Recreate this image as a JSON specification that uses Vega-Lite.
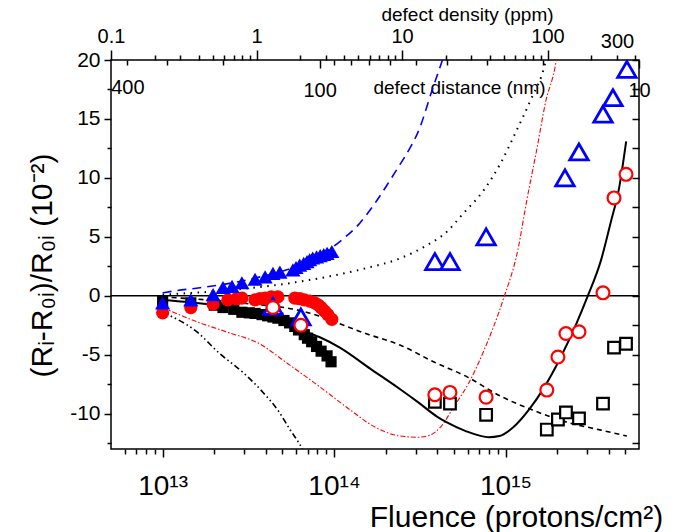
{
  "$schema": "https://vega.github.io/schema/vega-lite/v6.json",
  "width": 528,
  "height": 389,
  "autosize": {"type": "none"},
  "padding": {"left": 111, "top": 60, "right": 57, "bottom": 83},
  "config": {
    "view": {"stroke": "#000", "strokeWidth": 1.5},
    "font": "Liberation Sans",
    "axis": {"grid": false, "domain": false, "tickColor": "#000", "tickWidth": 1.5, "labelColor": "#000", "titleColor": "#000", "labelFont": "Liberation Sans", "titleFont": "Liberation Sans", "labelFlush": false, "labelOverlap": false, "titleFontWeight": "normal"}
  },
  "datasets": {
    "zero": [{"F": 5e12, "y": 0}, {"F": 6e15, "y": 0}],
    "filledSq": [
      {"F": 1e13, "y": -0.5}, {"F": 1.46e13, "y": -0.6}, {"F": 2.0e13, "y": -0.8}, {"F": 2.25e13, "y": -1.0},
      {"F": 2.6e13, "y": -1.15}, {"F": 2.9e13, "y": -1.4}, {"F": 3.2e13, "y": -1.45}, {"F": 3.46e13, "y": -1.5},
      {"F": 3.8e13, "y": -1.6}, {"F": 4.1e13, "y": -1.7}, {"F": 4.4e13, "y": -1.8}, {"F": 4.7e13, "y": -1.9},
      {"F": 5.1e13, "y": -2.1}, {"F": 5.5e13, "y": -2.3}, {"F": 5.9e13, "y": -2.6}, {"F": 6.2e13, "y": -2.9},
      {"F": 6.7e13, "y": -3.3}, {"F": 7.0e13, "y": -3.6}, {"F": 7.4e13, "y": -3.9}, {"F": 7.9e13, "y": -4.3},
      {"F": 8.4e13, "y": -4.7}, {"F": 9.1e13, "y": -5.1}, {"F": 9.6e13, "y": -5.6}
    ],
    "filledCi": [
      {"F": 1e13, "y": -1.45}, {"F": 1.46e13, "y": -1.0}, {"F": 1.97e13, "y": -0.7}, {"F": 2.4e13, "y": -0.35},
      {"F": 2.7e13, "y": -0.25}, {"F": 2.9e13, "y": -0.2}, {"F": 3.46e13, "y": -0.35}, {"F": 3.7e13, "y": -0.25},
      {"F": 3.96e13, "y": -0.2}, {"F": 4.3e13, "y": -0.1}, {"F": 4.7e13, "y": -0.1}, {"F": 5.9e13, "y": -0.2},
      {"F": 6.3e13, "y": -0.25}, {"F": 6.7e13, "y": -0.35}, {"F": 7.2e13, "y": -0.45}, {"F": 7.7e13, "y": -0.6},
      {"F": 8.1e13, "y": -0.8}, {"F": 8.4e13, "y": -1.0}, {"F": 8.8e13, "y": -1.3}, {"F": 9.2e13, "y": -1.6},
      {"F": 9.7e13, "y": -2.0}
    ],
    "filledTri": [
      {"F": 1e13, "y": -0.6}, {"F": 1.46e13, "y": -0.35}, {"F": 1.97e13, "y": 0.1}, {"F": 2.25e13, "y": 0.7},
      {"F": 2.54e13, "y": 0.8}, {"F": 2.9e13, "y": 1.1}, {"F": 3.46e13, "y": 1.4}, {"F": 3.96e13, "y": 1.6},
      {"F": 4.4e13, "y": 1.9}, {"F": 4.83e13, "y": 2.0}, {"F": 5.75e13, "y": 2.2}, {"F": 6.0e13, "y": 2.4},
      {"F": 6.3e13, "y": 2.6}, {"F": 6.65e13, "y": 2.75}, {"F": 6.95e13, "y": 2.9}, {"F": 7.2e13, "y": 3.05},
      {"F": 7.5e13, "y": 3.2}, {"F": 7.9e13, "y": 3.3}, {"F": 8.3e13, "y": 3.4}, {"F": 8.7e13, "y": 3.5},
      {"F": 9.1e13, "y": 3.6}, {"F": 9.7e13, "y": 3.75}
    ],
    "openSq": [
      {"F": 3.87e14, "y": -9.0}, {"F": 4.74e14, "y": -9.15}, {"F": 7.7e14, "y": -10.1}, {"F": 1.74e15, "y": -11.35},
      {"F": 2.02e15, "y": -10.5}, {"F": 2.25e15, "y": -9.9}, {"F": 2.68e15, "y": -10.4}, {"F": 3.7e15, "y": -9.15},
      {"F": 4.29e15, "y": -4.4}, {"F": 5.04e15, "y": -4.07}
    ],
    "openTri": [
      {"F": 4.4e13, "y": -0.9}, {"F": 6.4e13, "y": -1.8}, {"F": 3.87e14, "y": 2.9}, {"F": 4.74e14, "y": 2.9},
      {"F": 7.7e14, "y": 5.0}, {"F": 2.22e15, "y": 10.0}, {"F": 2.68e15, "y": 12.2}, {"F": 3.7e15, "y": 15.4},
      {"F": 4.23e15, "y": 16.8}, {"F": 5.1e15, "y": 19.2}
    ],
    "openCi": [
      {"F": 4.4e13, "y": -1.0}, {"F": 6.4e13, "y": -2.5}, {"F": 3.87e14, "y": -8.4}, {"F": 4.74e14, "y": -8.2},
      {"F": 7.7e14, "y": -8.6}, {"F": 1.74e15, "y": -8.0}, {"F": 2.02e15, "y": -5.2}, {"F": 2.25e15, "y": -3.2},
      {"F": 2.68e15, "y": -3.05}, {"F": 3.7e15, "y": 0.25}, {"F": 4.29e15, "y": 8.3}, {"F": 5.04e15, "y": 10.3}
    ],
    "lBlueDash": [
      {"F": 1e13, "y": 0.25}, {"F": 1.18e13, "y": 0.42}, {"F": 1.65e13, "y": 0.68}, {"F": 2.57e13, "y": 1.1},
      {"F": 3.7e13, "y": 1.6}, {"F": 5.3e13, "y": 2.2}, {"F": 7.5e13, "y": 3.05}, {"F": 1.08e14, "y": 4.6},
      {"F": 1.42e14, "y": 6.2}, {"F": 1.78e14, "y": 8.1}, {"F": 2.12e14, "y": 9.8}, {"F": 2.39e14, "y": 11.0},
      {"F": 2.59e14, "y": 11.8}, {"F": 3.17e14, "y": 14.3}, {"F": 3.72e14, "y": 17.4}, {"F": 4.26e14, "y": 19.9},
      {"F": 4.5e14, "y": 21}
    ],
    "lDotted": [
      {"F": 1e13, "y": 0.1}, {"F": 2.57e13, "y": 0.5}, {"F": 6.3e13, "y": 1.2}, {"F": 1.5e14, "y": 2.3},
      {"F": 2.4e14, "y": 3.15}, {"F": 3.4e14, "y": 4.2}, {"F": 4.6e14, "y": 5.5}, {"F": 5.6e14, "y": 6.9},
      {"F": 7.5e14, "y": 9.0}, {"F": 9.4e14, "y": 11.3}, {"F": 1.14e15, "y": 13.8}, {"F": 1.4e15, "y": 16.6},
      {"F": 1.7e15, "y": 19.7}, {"F": 1.75e15, "y": 20.5}
    ],
    "lRedDD": [
      {"F": 1e13, "y": -1.0}, {"F": 1.65e13, "y": -2.3}, {"F": 2.4e13, "y": -3.1}, {"F": 3.7e13, "y": -4.1},
      {"F": 5.3e13, "y": -5.7}, {"F": 8.2e13, "y": -7.7}, {"F": 1.3e14, "y": -9.9}, {"F": 1.58e14, "y": -10.8},
      {"F": 2.44e14, "y": -11.9}, {"F": 3.07e14, "y": -12.0}, {"F": 3.5e14, "y": -11.9}, {"F": 4.2e14, "y": -11.1},
      {"F": 5.0e14, "y": -9.4}, {"F": 6.1e14, "y": -7.4}, {"F": 7.5e14, "y": -4.6}, {"F": 9.7e14, "y": -0.3},
      {"F": 1.18e15, "y": 3.9}, {"F": 1.33e15, "y": 8.1}, {"F": 1.52e15, "y": 12.4}, {"F": 1.71e15, "y": 16.4},
      {"F": 1.96e15, "y": 19.7}, {"F": 2.0e15, "y": 20.5}
    ],
    "lSolid": [
      {"F": 1e13, "y": -0.35}, {"F": 1.9e13, "y": -0.75}, {"F": 3.7e13, "y": -1.6}, {"F": 6.3e13, "y": -2.9},
      {"F": 8.2e13, "y": -3.5}, {"F": 1.08e14, "y": -4.4}, {"F": 1.63e14, "y": -6.2}, {"F": 2.44e14, "y": -7.95},
      {"F": 3.07e14, "y": -9.0}, {"F": 3.98e14, "y": -10.25}, {"F": 4.55e14, "y": -10.75}, {"F": 5.9e14, "y": -11.5},
      {"F": 8.0e14, "y": -12.0}, {"F": 9.2e14, "y": -11.9}, {"F": 1.1e15, "y": -11.2}, {"F": 1.38e15, "y": -9.6},
      {"F": 1.66e15, "y": -7.9}, {"F": 2.1e15, "y": -5.2}, {"F": 2.6e15, "y": -2.3}, {"F": 3.0e15, "y": -0.1},
      {"F": 3.6e15, "y": 3.0}, {"F": 4.1e15, "y": 6.2}, {"F": 4.6e15, "y": 9.2}, {"F": 5.05e15, "y": 13.1}
    ],
    "lShortDash": [
      {"F": 1e13, "y": -0.1}, {"F": 2.8e13, "y": -0.6}, {"F": 6.3e13, "y": -1.25}, {"F": 1.6e14, "y": -3.3},
      {"F": 2.44e14, "y": -4.2}, {"F": 3.8e14, "y": -5.6}, {"F": 6.0e14, "y": -6.9}, {"F": 9.3e14, "y": -8.5},
      {"F": 1.44e15, "y": -9.7}, {"F": 2.25e15, "y": -10.7}, {"F": 3.6e15, "y": -11.4}, {"F": 5.1e15, "y": -11.9}
    ],
    "lDDD": [
      {"F": 1e13, "y": -1.4}, {"F": 1.58e13, "y": -3.05}, {"F": 2.15e13, "y": -4.9}, {"F": 2.94e13, "y": -6.5},
      {"F": 3.85e13, "y": -8.2}, {"F": 4.8e13, "y": -9.9}, {"F": 5.5e13, "y": -11.3}, {"F": 6.3e13, "y": -12.6},
      {"F": 6.8e13, "y": -13.5}
    ]
  },
  "layer": [
    {
      "encoding": {
        "x": {
          "field": "F", "type": "quantitative",
          "scale": {"type": "log", "domain": [5e12, 6e15], "nice": false},
          "axis": {
            "orient": "bottom",
            "values": [6e12, 7e12, 8e12, 9e12, 1e13, 2e13, 3e13, 4e13, 5e13, 6e13, 7e13, 8e13, 9e13, 1e14, 2e14, 3e14, 4e14, 5e14, 6e14, 7e14, 8e14, 9e14, 1e15, 2e15, 3e15, 4e15, 5e15],
            "tickSize": {"condition": {"test": "abs(log(datum.value)/LN10 - round(log(datum.value)/LN10)) < 0.001", "value": 8}, "value": 5},
            "labelExpr": "abs(log(datum.value)/LN10 - round(log(datum.value)/LN10)) < 0.001 ? (round(log(datum.value)/LN10) == 13 ? '10¹³' : round(log(datum.value)/LN10) == 14 ? '10¹⁴' : '10¹⁵') : ''",
            "labelFontSize": 28,
            "labelBaseline": "alphabetic",
            "labelPadding": 37,
            "title": "Fluence (protons/cm²)",
            "titleFontSize": 30,
            "titleX": 405, "titleY": 77, "titleAlign": "center", "titleBaseline": "alphabetic"
          }
        },
        "y": {
          "field": "y", "type": "quantitative",
          "scale": {"domain": [-13, 20], "nice": false, "zero": false},
          "axis": {
            "orient": "left",
            "values": [-12.5, -10, -7.5, -5, -2.5, 0, 2.5, 5, 7.5, 10, 12.5, 15, 17.5, 20],
            "tickSize": {"condition": {"test": "datum.value % 5 == 0", "value": 7}, "value": 4},
            "labelExpr": "datum.value % 5 == 0 ? '' + datum.value : ''",
            "labelFontSize": 21,
            "labelPadding": 4,
            "labelBaseline": "middle",
            "title": "(Rᵢ-R₀ᵢ)/R₀ᵢ (10⁻²)",
            "titleFontSize": 30,
            "titleX": -69, "titleY": 205, "titleAngle": 270, "titleAlign": "center", "titleBaseline": "middle"
          }
        }
      },
      "layer": [
        {"data": {"name": "zero"}, "mark": {"type": "line", "color": "#000", "strokeWidth": 1.5}},
        {"data": {"name": "lBlueDash"}, "mark": {"type": "line", "color": "#0000ff", "strokeWidth": 1.6, "strokeDash": [9, 6], "interpolate": "monotone", "clip": true}},
        {"data": {"name": "lDotted"}, "mark": {"type": "line", "color": "#000", "strokeWidth": 2, "strokeDash": [1.5, 5.5], "interpolate": "monotone", "clip": true}},
        {"data": {"name": "lRedDD"}, "mark": {"type": "line", "color": "#ff0000", "strokeWidth": 1.1, "strokeDash": [5, 2, 1.5, 2], "interpolate": "monotone", "clip": true}},
        {"data": {"name": "lSolid"}, "mark": {"type": "line", "color": "#000", "strokeWidth": 2, "interpolate": "monotone", "clip": true}},
        {"data": {"name": "lShortDash"}, "mark": {"type": "line", "color": "#000", "strokeWidth": 1.6, "strokeDash": [5, 4], "interpolate": "monotone", "clip": true}},
        {"data": {"name": "lDDD"}, "mark": {"type": "line", "color": "#000", "strokeWidth": 1.6, "strokeDash": [6, 3, 1.5, 3, 1.5, 3], "interpolate": "monotone", "clip": true}},
        {"data": {"name": "filledSq"}, "mark": {"type": "point", "shape": "square", "filled": true, "color": "#000", "opacity": 1, "size": 125}},
        {"data": {"name": "filledCi"}, "mark": {"type": "point", "shape": "circle", "filled": true, "color": "#ff0000", "opacity": 1, "size": 175}},
        {"data": {"name": "filledTri"}, "mark": {"type": "point", "shape": "triangle-up", "filled": true, "color": "#0000ff", "opacity": 1, "size": 230}},
        {"data": {"name": "openSq"}, "mark": {"type": "point", "shape": "square", "filled": true, "fill": "#fff", "stroke": "#000", "strokeWidth": 2.2, "opacity": 1, "size": 135}},
        {"data": {"name": "openTri"}, "mark": {"type": "point", "shape": "triangle-up", "filled": true, "fill": "#fff", "stroke": "#0000ff", "strokeWidth": 2.8, "opacity": 1, "size": 340}},
        {"data": {"name": "openCi"}, "mark": {"type": "point", "shape": "circle", "filled": true, "fill": "#fff", "stroke": "#ff0000", "strokeWidth": 2.2, "opacity": 1, "size": 165}}
      ]
    },
    {
      "data": {"values": [{"ppm": 0.1}, {"ppm": 425}]},
      "mark": {"type": "rule", "strokeOpacity": 0},
      "encoding": {
        "x": {
          "field": "ppm", "type": "quantitative",
          "scale": {"type": "log", "domain": [0.1, 425], "nice": false},
          "axis": {
            "orient": "top",
            "values": [0.1, 0.2, 0.3, 0.4, 0.5, 0.6, 0.7, 0.8, 0.9, 1, 2, 3, 4, 5, 6, 7, 8, 9, 10, 20, 30, 40, 50, 60, 70, 80, 90, 100, 200, 300, 400],
            "tickSize": {"condition": {"test": "abs(log(datum.value)/LN10 - round(log(datum.value)/LN10)) < 0.001", "value": 10}, "value": 5},
            "labelExpr": "datum.value == 0.1 ? '0.1' : datum.value == 1 ? '1' : datum.value == 10 ? '10' : datum.value == 100 ? '100' : datum.value == 300 ? '300' : ''",
            "labelFontSize": 20,
            "labelBaseline": "alphabetic",
            "labelPadding": 8,
            "title": "defect density (ppm)",
            "titleFontSize": 19,
            "titleX": 356, "titleY": -46, "titleAlign": "center", "titleBaseline": "middle"
          }
        }
      }
    },
    {
      "data": {"values": [{"nm": 10}, {"nm": 450}]},
      "mark": {"type": "rule", "strokeOpacity": 0},
      "encoding": {
        "x": {
          "field": "nm", "type": "quantitative",
          "scale": {"type": "log", "domain": [10, 450], "nice": false, "reverse": true},
          "axis": {
            "orient": "bottom",
            "offset": -389,
            "values": [400, 300, 200, 100, 90, 80, 70, 60, 50, 40, 30, 20, 10],
            "tickSize": {"condition": {"test": "datum.value == 100 || datum.value == 10", "value": 8}, "value": 5},
            "labelExpr": "datum.value == 400 ? '400' : datum.value == 100 ? '100' : datum.value == 10 ? '10' : ''",
            "labelFontSize": 20,
            "labelBaseline": "alphabetic",
            "labelPadding": 28,
            "title": "defect distance (nm)",
            "titleFontSize": 19,
            "titleX": 348, "titleY": 33, "titleAlign": "center", "titleBaseline": "alphabetic"
          }
        }
      }
    },
    {
      "data": {"values": [{"v": -13}, {"v": 20}]},
      "mark": {"type": "rule", "strokeOpacity": 0},
      "encoding": {
        "y": {
          "field": "v", "type": "quantitative",
          "scale": {"domain": [-13, 20], "nice": false, "zero": false},
          "axis": {
            "orient": "left",
            "offset": -528,
            "values": [-12.5, -10, -7.5, -5, -2.5, 0, 2.5, 5, 7.5, 10, 12.5, 15, 17.5, 20],
            "tickSize": 7,
            "labels": false,
            "title": null
          }
        }
      }
    }
  ],
  "resolve": {"scale": {"x": "independent", "y": "independent"}}
}
